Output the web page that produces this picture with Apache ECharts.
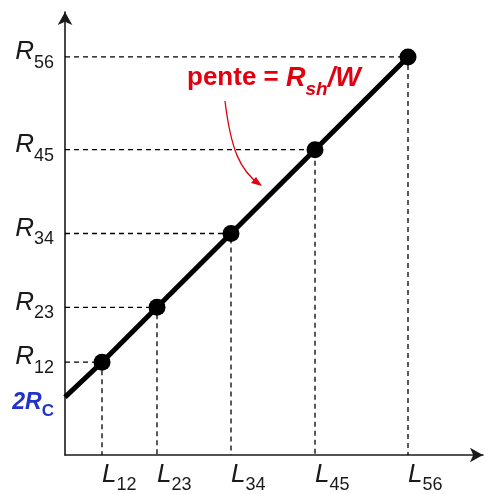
<!DOCTYPE html>
<html>
<head>
<meta charset="utf-8">
<script src="https://cdn.jsdelivr.net/npm/echarts@6/dist/echarts.min.js"></script>
<style>
  html, body { margin: 0; padding: 0; background: #fff; }
  #chart { width: 485px; height: 494px; }
</style>
</head>
<body>
<div id="chart"></div>
<script>
// Segment lengths (x) and measured resistances (y) for the TLM pads
const lengths = [37, 92, 166, 250, 343];
const resistances = [93, 148, 222, 306, 399];
// Intercept at L = 0 : twice the contact resistance
const intercept = 58;
const pairLabels = ['12', '23', '34', '45', '56'];

const FONT = 'Liberation Sans, Arial, sans-serif';
const INK = '#1a1a1a';
const BLUE = '#2233cc';

const chart = echarts.init(document.getElementById('chart'), null, { renderer: 'canvas' });

// Dashed guide from each measurement to both axes
const guides = lengths.map((L, i) => ({
  type: 'line',
  data: [[0, resistances[i]], [L, resistances[i]], [L, 0]],
  symbol: 'none',
  silent: true,
  z: 1,
  lineStyle: { color: '#000', width: 1.3, type: [5, 4] }
}));

// Fitted line: starts on the y axis at 2Rc and runs through every point
const lineData = [{ value: [0, intercept], symbol: 'none' }].concat(
  lengths.map((L, i) => ({ value: [L, resistances[i]] }))
);

// Italic symbol with an upright subscript; compact line boxes keep
// neighbouring labels (2Rc and R12) from being treated as overlapping
const yRich = {
  r: { fontFamily: FONT, fontSize: 26, fontStyle: 'italic', color: INK, lineHeight: 16, verticalAlign: 'bottom' },
  s: { fontFamily: FONT, fontSize: 18, color: INK, lineHeight: 16, verticalAlign: 'top', padding: [5, 0, 0, 0] },
  b: { fontFamily: FONT, fontSize: 23, fontStyle: 'italic', fontWeight: 'bold', color: BLUE, lineHeight: 12, verticalAlign: 'top' },
  bs: { fontFamily: FONT, fontSize: 17, fontWeight: 'bold', color: BLUE, lineHeight: 12, verticalAlign: 'top', padding: [12, 0, 0, 0] }
};
const xRich = {
  l: { fontFamily: FONT, fontSize: 26, fontStyle: 'italic', color: INK, lineHeight: 26, verticalAlign: 'top' },
  ls: { fontFamily: FONT, fontSize: 18, color: INK, lineHeight: 40, verticalAlign: 'top', padding: [14, 0, 0, 0] }
};

const option = {
  animation: false,
  backgroundColor: '#fff',
  grid: { left: 65, top: 12, width: 418, height: 444 },
  xAxis: {
    type: 'value',
    min: 0,
    max: 418,
    splitLine: { show: false },
    axisLine: {
      show: true,
      symbol: ['none', 'arrow'],
      symbolSize: [11, 13],
      lineStyle: { color: INK, width: 1.6 }
    },
    axisTick: { show: false },
    axisLabel: {
      customValues: lengths,
      showMinLabel: true,
      showMaxLabel: true,
      hideOverlap: false,
      margin: 7,
      align: 'left',
      formatter: v => '{l|L}{ls|' + pairLabels[lengths.indexOf(v)] + '}',
      rich: xRich
    }
  },
  yAxis: {
    type: 'value',
    min: 0,
    max: 444,
    splitLine: { show: false },
    axisLine: {
      show: true,
      symbol: ['none', 'arrow'],
      symbolSize: [11, 13],
      lineStyle: { color: INK, width: 1.6 }
    },
    axisTick: { show: false },
    axisLabel: {
      customValues: [intercept].concat(resistances),
      showMinLabel: true,
      showMaxLabel: true,
      hideOverlap: false,
      margin: 11,
      formatter: v => v === intercept
        ? '{b|2R}{bs|C}'
        : '{r|R}{s|' + pairLabels[resistances.indexOf(v)] + '}',
      rich: yRich
    }
  },
  series: guides.concat([{
    type: 'line',
    data: lineData,
    symbol: 'circle',
    symbolSize: 17,
    z: 5,
    itemStyle: { color: '#000' },
    lineStyle: { color: '#000', width: 5 }
  }])
};

chart.setOption(option);

// Slope annotation with a curved red pointer onto the line
const RED = '#e00010';
chart.setOption({
  graphic: [
    {
      type: 'text',
      left: 187,
      top: 65,
      style: {
        text: '{a|pente = }{i|R}{s|sh}{i|/W}',
        rich: {
          a: { fontFamily: FONT, fontSize: 26, fontWeight: 'bold', fill: RED, lineHeight: 30, verticalAlign: 'top' },
          i: { fontFamily: FONT, fontSize: 27, fontWeight: 'bold', fontStyle: 'italic', fill: RED, lineHeight: 30, verticalAlign: 'top' },
          s: { fontFamily: FONT, fontSize: 19, fontWeight: 'bold', fontStyle: 'italic', fill: RED, lineHeight: 14, verticalAlign: 'top', padding: [15, 0, 0, 0] }
        }
      }
    },
    {
      type: 'bezierCurve',
      shape: { x1: 225, y1: 101, cpx1: 231, cpy1: 150, cpx2: 240, cpy2: 170, x2: 259, y2: 184 },
      style: { stroke: RED, lineWidth: 1.3, fill: null }
    },
    {
      type: 'polygon',
      shape: { points: [[262, 186], [251, 183], [256, 177]] },
      style: { fill: RED }
    }
  ]
});
</script>
</body>
</html>
